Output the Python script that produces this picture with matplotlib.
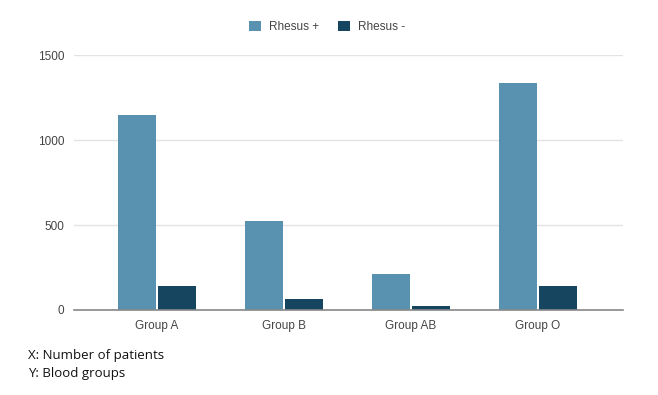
import numpy as np
import matplotlib.pyplot as plt

# data
groups = ['Group A', 'Group B', 'Group AB', 'Group O']
rhesus_pos = [1150, 525, 212, 1338]
rhesus_neg = [141, 62, 25, 142]
series_names = ['Rhesus +', 'Rhesus -']
colors = ['#5892b0', '#16455f']

plt.rcParams['font.family'] = ['Liberation Sans', 'DejaVu Sans']

fig = plt.figure(figsize=(6.58, 3.95), dpi=100)
ax = fig.add_axes([74 / 658, 85 / 395, 549 / 658, 255 / 395])

x = np.arange(len(groups))
w = 0.3
ax.bar(x - 0.16, rhesus_pos, width=w, color=colors[0], label=series_names[0], zorder=3)
ax.bar(x + 0.16, rhesus_neg, width=w, color=colors[1], label=series_names[1], zorder=3)

ax.set_xlim(-0.655, 3.67)
ax.set_ylim(0, 1500)
ax.set_yticks([0, 500, 1000, 1500])
ax.set_xticks(x)
ax.set_xticklabels(groups)
ax.tick_params(axis='both', length=0, labelsize=8.5, colors='#444444')
ax.tick_params(axis='y', pad=7)
ax.tick_params(axis='x', pad=7)
ax.grid(axis='y', color='#e3e3e3', linewidth=1, zorder=0)
for s in ['top', 'right', 'left']:
    ax.spines[s].set_visible(False)
ax.spines['bottom'].set_color('#888888')
ax.spines['bottom'].set_linewidth(1.2)
ax.spines['bottom'].set_zorder(4)

fig.legend(loc='center', bbox_to_anchor=(327 / 658, 1 - 27 / 395), ncol=2,
           frameon=False, fontsize=8.5, handlelength=1.0, handleheight=1.0,
           columnspacing=1.6, handletextpad=0.7, labelcolor='#444444')

fig.text(28 / 658, 1 - 356 / 395, 'X: Number of patients', fontsize=9.5,
         family=['Open Sans', 'DejaVu Sans'], va='center', color='#111111')
fig.text(28 / 658, 1 - 374 / 395, 'Y: Blood groups', fontsize=9.5,
         family=['Open Sans', 'DejaVu Sans'], va='center', color='#111111')

fig.savefig('out.png', dpi=100)
